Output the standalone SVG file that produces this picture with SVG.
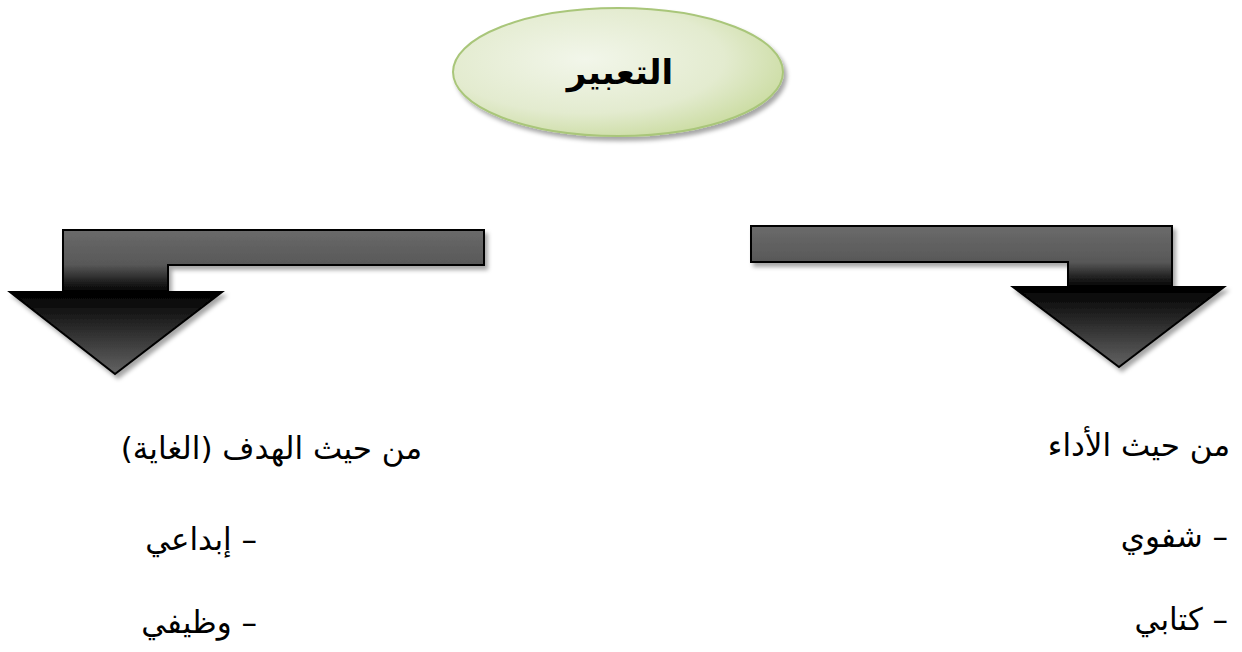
<svg xmlns="http://www.w3.org/2000/svg" width="1242" height="652" viewBox="0 0 1242 652">
  <defs>
    <radialGradient id="ovalFill" cx="40%" cy="40%" r="65%">
      <stop offset="0" stop-color="#f2f6ea"/>
      <stop offset="0.65" stop-color="#e3ebcf"/>
      <stop offset="1" stop-color="#cbdca2"/>
    </radialGradient>
    <linearGradient id="arrowFillL" x1="0" y1="230" x2="0" y2="374" gradientUnits="userSpaceOnUse">
      <stop offset="0" stop-color="#6a6a6a"/>
      <stop offset="0.24" stop-color="#585858"/>
      <stop offset="0.43" stop-color="#000000"/>
      <stop offset="0.5" stop-color="#0a0a0a"/>
      <stop offset="1" stop-color="#636363"/>
    </linearGradient>
    <linearGradient id="arrowFillR" x1="0" y1="226" x2="0" y2="367" gradientUnits="userSpaceOnUse">
      <stop offset="0" stop-color="#6a6a6a"/>
      <stop offset="0.255" stop-color="#585858"/>
      <stop offset="0.43" stop-color="#000000"/>
      <stop offset="0.5" stop-color="#0a0a0a"/>
      <stop offset="1" stop-color="#636363"/>
    </linearGradient>
    <filter id="shadow" x="-10%" y="-10%" width="130%" height="140%">
      <feDropShadow dx="3" dy="4" stdDeviation="2" flood-color="#000" flood-opacity="0.35"/>
    </filter>
  </defs>
  <style>
    .oval { fill: url(#ovalFill); stroke: #a9c67a; stroke-width: 2; }
    .arrow { stroke: #000; stroke-width: 2; stroke-linejoin: miter; }
    .title { font-family: "DejaVu Sans", sans-serif; font-weight: bold; font-size: 34px; fill: #000; }
    .label { font-family: "DejaVu Sans", sans-serif; font-size: 31px; fill: #000; }
  </style>
  <rect width="1242" height="652" fill="#fff"/>

  <g id="connectors">
    <polygon class="arrow" fill="url(#arrowFillL)" filter="url(#shadow)" points="63,230 484,230 484,265 168,265 168,292 222,292 115,374 10,292 63,292"/>
    <polygon class="arrow" fill="url(#arrowFillR)" filter="url(#shadow)" points="751,226 1172,226 1172,287 1224,287 1119,367 1013,287 1068,287 1068,262 751,262"/>
  </g>

  <g id="node-root">
    <ellipse class="oval" filter="url(#shadow)" cx="618" cy="72" rx="165" ry="64"/>
    <text class="title" x="620" y="84" text-anchor="middle" direction="rtl">التعبير</text>
  </g>

  <g id="node-goal">
    <text class="label" x="422" y="459" direction="rtl" text-anchor="start">من حيث الهدف (الغاية)</text>
    <text class="label" x="257" y="550" direction="rtl" text-anchor="start">– إبداعي</text>
    <text class="label" x="257" y="633" direction="rtl" text-anchor="start">– وظيفي</text>
  </g>

  <g id="node-performance">
    <text class="label" x="1230" y="456" direction="rtl" text-anchor="start">من حيث الأداء</text>
    <text class="label" x="1228" y="547" direction="rtl" text-anchor="start">– شفوي</text>
    <text class="label" x="1228" y="630" direction="rtl" text-anchor="start">– كتابي</text>
  </g>
</svg>
